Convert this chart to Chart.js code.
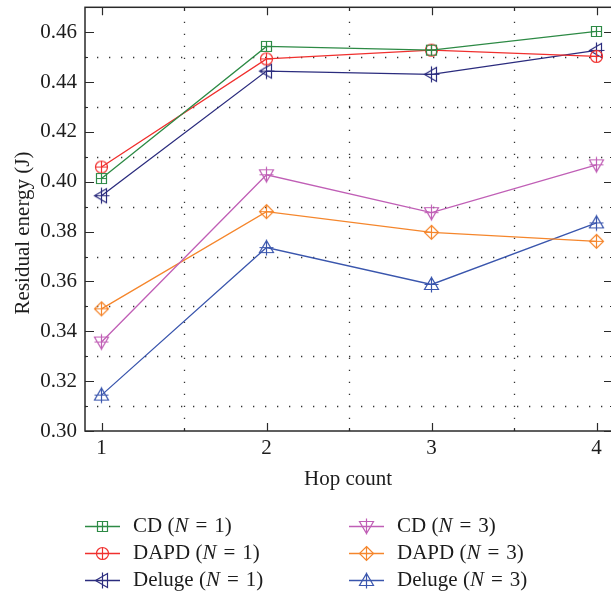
<!DOCTYPE html>
<html lang="en">

<head>
	<meta charset="UTF-8">
	<title>Residual energy vs hop count</title>
	<script src="https://cdn.jsdelivr.net/npm/chart.js"></script>
	<style>
		html, body { margin: 0; padding: 0; background: #fff; overflow: hidden; }
		#wrap { width: 611px; height: 595px; overflow: hidden; }
	</style>
</head>

<body>
	<div id="wrap">
		<canvas id="energyChart" width="640" height="595"></canvas>
	</div>
	<script>
	// values
	const hops = [1, 2, 3, 4];
	const cdN1 = [0.4013, 0.4543, 0.4528, 0.4603];
	const dapdN1 = [0.4059, 0.4493, 0.4528, 0.4503];
	const delugeN1 = [0.3944, 0.4444, 0.4431, 0.4527];
	const cdN3 = [0.3357, 0.4028, 0.3876, 0.4068];
	const dapdN3 = [0.3490, 0.3880, 0.3797, 0.3761];
	const delugeN3 = [0.3144, 0.3736, 0.3588, 0.3835];

	const seriesNames = ['CD', 'DAPD', 'Deluge', 'CD', 'DAPD', 'Deluge'];
	const seriesN = [1, 1, 1, 3, 3, 3];
	const xTicks = [1, 2, 3, 4];
	const yTicks = [0.30, 0.32, 0.34, 0.36, 0.38, 0.40, 0.42, 0.44, 0.46];
	const xMinor = [1.5, 2.5, 3.5];
	const yMinor = [0.31, 0.33, 0.35, 0.37, 0.39, 0.41, 0.43, 0.45];

	const FONT = '"Liberation Serif", "Times New Roman", serif';
	const TEXT = '#1c1c1c';

	function makeMarker(shape, color) {
		const s = 19, m = 9.5;
		const c = document.createElement('canvas');
		c.width = s;
		c.height = s;
		const g = c.getContext('2d');
		g.strokeStyle = color;
		g.lineWidth = 1.2;
		g.beginPath();
		if(shape === 'square') {
			g.rect(m - 5, m - 5, 10, 10);
			g.moveTo(m - 5, m); g.lineTo(m + 5, m);
			g.moveTo(m, m - 5); g.lineTo(m, m + 5);
		} else if(shape === 'circle') {
			g.arc(m, m, 6, 0, Math.PI * 2);
			g.moveTo(m - 6, m); g.lineTo(m + 6, m);
			g.moveTo(m, m - 6); g.lineTo(m, m + 6);
		} else if(shape === 'triLeft') {
			g.moveTo(m - 7, m); g.lineTo(m + 5, m - 7); g.lineTo(m + 5, m + 7); g.closePath();
			g.moveTo(m - 7, m); g.lineTo(m + 8, m);
			g.moveTo(m, m - 8); g.lineTo(m, m + 8);
		} else if(shape === 'triDown') {
			g.moveTo(m - 7, m - 5); g.lineTo(m + 7, m - 5); g.lineTo(m, m + 7); g.closePath();
			g.moveTo(m - 7, m); g.lineTo(m + 7, m);
			g.moveTo(m, m - 8); g.lineTo(m, m + 8);
		} else if(shape === 'diamond') {
			g.moveTo(m, m - 7); g.lineTo(m + 7, m); g.lineTo(m, m + 7); g.lineTo(m - 7, m); g.closePath();
			g.moveTo(m - 7, m); g.lineTo(m + 7, m);
			g.moveTo(m, m - 7); g.lineTo(m, m + 7);
		} else if(shape === 'triUp') {
			g.moveTo(m - 7, m + 5); g.lineTo(m + 7, m + 5); g.lineTo(m, m - 7); g.closePath();
			g.moveTo(m - 7, m); g.lineTo(m + 7, m);
			g.moveTo(m, m - 8); g.lineTo(m, m + 8);
		}
		g.stroke();
		return c;
	}

	const colors = ['#2d8a45', '#f0302e', '#2b2c7e', '#c05fb6', '#f5862c', '#3a56ad'];
	const shapes = ['square', 'circle', 'triLeft', 'triDown', 'diamond', 'triUp'];
	const allSeries = [cdN1, dapdN1, delugeN1, cdN3, dapdN3, delugeN3];

	const datasets = allSeries.map((vals, i) => ({
		label: `${seriesNames[i]} (N = ${seriesN[i]})`,
		data: hops.map((h, j) => ({ x: h, y: vals[j] })),
		borderColor: colors[i],
		backgroundColor: colors[i],
		borderWidth: 1.3,
		pointStyle: makeMarker(shapes[i], colors[i]),
		pointRadius: 6,
		pointHoverRadius: 6,
		tension: 0,
		fill: false
	}));

	// box, inward ticks, dotted grid, axis titles and legend
	const framePlugin = {
		id: 'frame',
		beforeDatasetsDraw(chart) {
			const { ctx, chartArea: a, scales: { x, y } } = chart;
			ctx.save();
			ctx.strokeStyle = '#333';
			ctx.lineWidth = 1.3;
			ctx.setLineDash([1.3, 10.7]);
			yMinor.forEach(v => {
				const py = Math.round(y.getPixelForValue(v)) + 0.5;
				ctx.beginPath();
				ctx.moveTo(a.left, py);
				ctx.lineTo(a.right, py);
				ctx.stroke();
			});
			xMinor.forEach(v => {
				const px = Math.round(x.getPixelForValue(v)) + 0.5;
				ctx.beginPath();
				ctx.moveTo(px, a.bottom);
				ctx.lineTo(px, a.top);
				ctx.stroke();
			});
			ctx.restore();
		},
		afterDatasetsDraw(chart) {
			const { ctx, chartArea: a, scales: { x, y } } = chart;
			ctx.save();
			ctx.strokeStyle = '#2a2a2a';
			ctx.lineWidth = 1.5;
			ctx.strokeRect(a.left, a.top, a.right - a.left, a.bottom - a.top);
			ctx.lineWidth = 1.2;
			ctx.beginPath();
			xTicks.forEach(v => {
				const px = Math.round(x.getPixelForValue(v)) + 0.5;
				ctx.moveTo(px, a.bottom); ctx.lineTo(px, a.bottom - 8);
				ctx.moveTo(px, a.top); ctx.lineTo(px, a.top + 8);
			});
			xMinor.forEach(v => {
				const px = Math.round(x.getPixelForValue(v)) + 0.5;
				ctx.moveTo(px, a.bottom); ctx.lineTo(px, a.bottom - 3);
				ctx.moveTo(px, a.top); ctx.lineTo(px, a.top + 3);
			});
			yTicks.forEach(v => {
				const py = Math.round(y.getPixelForValue(v)) + 0.5;
				ctx.moveTo(a.left, py); ctx.lineTo(a.left + 9, py);
				ctx.moveTo(a.right, py); ctx.lineTo(a.right - 9, py);
			});
			yMinor.forEach(v => {
				const py = Math.round(y.getPixelForValue(v)) + 0.5;
				ctx.moveTo(a.left, py); ctx.lineTo(a.left + 3, py);
				ctx.moveTo(a.right, py); ctx.lineTo(a.right - 3, py);
			});
			ctx.stroke();
			ctx.restore();
		},
		afterDraw(chart) {
			const { ctx } = chart;
			ctx.save();
			ctx.fillStyle = TEXT;
			ctx.font = `21px ${FONT}`;
			ctx.textAlign = 'center';
			ctx.textBaseline = 'middle';
			ctx.fillText('Hop count', 348, 479);
			ctx.translate(23, 233);
			ctx.rotate(-Math.PI / 2);
			ctx.fillText('Residual energy (J)', 0, 0);
			ctx.restore();

			// legend
			const rows = [526, 553, 580];
			const lineX = [85, 349];
			const textX = [133, 397];
			chart.data.datasets.forEach((ds, i) => {
				const col = Math.floor(i / 3);
				const row = i % 3;
				const yy = rows[row] + 0.5;
				ctx.save();
				ctx.strokeStyle = ds.borderColor;
				ctx.lineWidth = 1.3;
				ctx.beginPath();
				ctx.moveTo(lineX[col], yy);
				ctx.lineTo(lineX[col] + 35, yy);
				ctx.stroke();
				ctx.drawImage(ds.pointStyle, Math.round(lineX[col] + 17.5 - 9.5), Math.round(yy - 9.5));
				ctx.fillStyle = TEXT;
				ctx.textBaseline = 'middle';
				ctx.textAlign = 'left';
				let tx = textX[col];
				const parts = [
					[`${seriesNames[i]} (`, ''],
					['N', 'italic '],
					[`\u2004=\u2004${seriesN[i]})`, '']
				];
				parts.forEach(([t, style]) => {
					ctx.font = `${style}21px ${FONT}`;
					ctx.fillText(t, tx, rows[row]);
					tx += ctx.measureText(t).width;
				});
				ctx.restore();
			});
		}
	};

	const ctx = document.getElementById('energyChart').getContext('2d');
	new Chart(ctx, {
		type: 'line',
		data: { datasets: datasets },
		plugins: [framePlugin],
		options: {
			responsive: false,
			animation: false,
			layout: { padding: { top: 7, right: 27, left: 0, bottom: 0 } },
			plugins: {
				legend: { display: false },
				tooltip: { enabled: false }
			},
			scales: {
				x: {
					type: 'linear',
					min: 0.9,
					max: 4.1,
					afterBuildTicks: (scale) => { scale.ticks = xTicks.map(v => ({ value: v })); },
					afterFit: (scale) => {
						scale.height = 164;
						scale.paddingLeft = 0;
						scale.paddingRight = 0;
					},
					grid: { display: false, drawTicks: false },
					border: { display: false },
					ticks: {
						padding: 5,
						color: TEXT,
						font: { family: FONT, size: 21 },
						maxRotation: 0,
						callback: (v) => String(v)
					}
				},
				y: {
					type: 'linear',
					min: 0.30,
					max: 0.47,
					afterBuildTicks: (scale) => { scale.ticks = yTicks.map(v => ({ value: v })); },
					afterFit: (scale) => {
						scale.width = 85;
						scale.paddingTop = 0;
						scale.paddingBottom = 0;
					},
					grid: { display: false, drawTicks: false },
					border: { display: false },
					ticks: {
						padding: 8,
						color: TEXT,
						font: { family: FONT, size: 21 },
						callback: (v) => v.toFixed(2)
					}
				}
			}
		}
	});
	</script>
</body>

</html>
